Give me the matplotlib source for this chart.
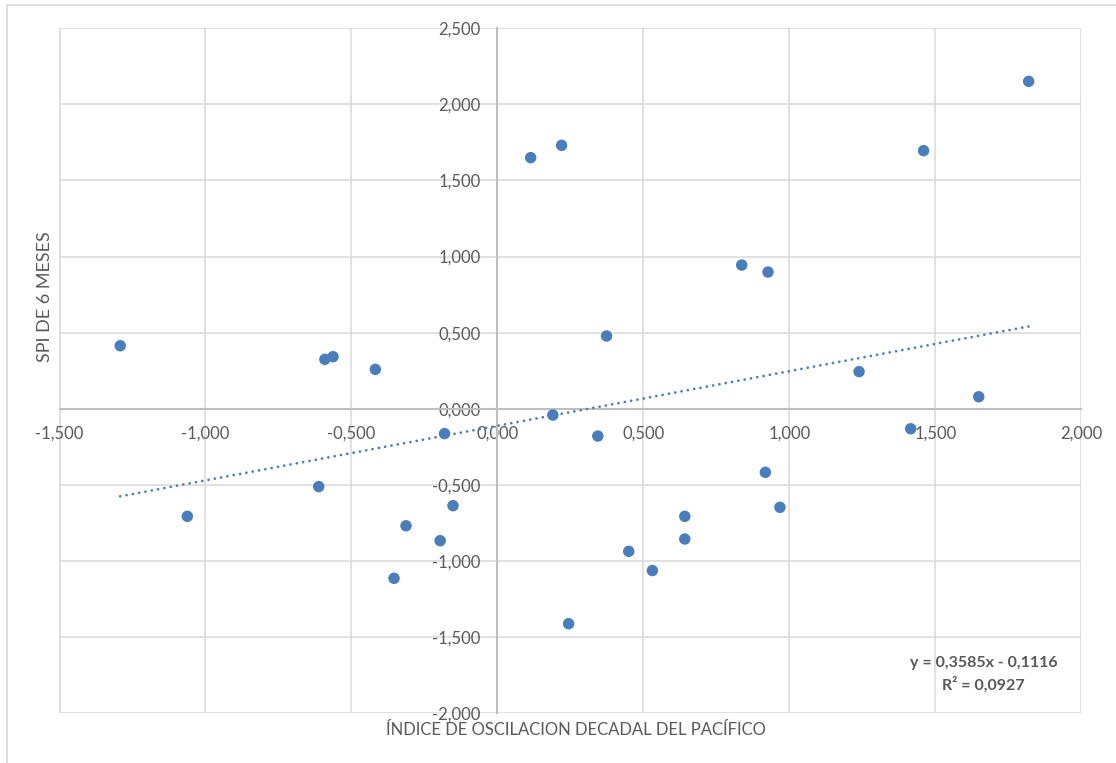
import matplotlib
matplotlib.use("Agg")
import matplotlib.pyplot as plt
from matplotlib.ticker import FixedLocator, FuncFormatter
from matplotlib.lines import Line2D
import numpy as np

# Pacific Decadal Oscillation index vs. 6-month SPI
pdo_index = [-1.292, -1.062, -0.612, -0.591, -0.563, -0.418, -0.354, -0.313,
             -0.196, -0.181, -0.152, 0.114, 0.190, 0.220, 0.244, 0.344,
             0.374, 0.450, 0.531, 0.642, 0.642, 0.837, 0.918, 0.927,
             0.968, 1.239, 1.416, 1.460, 1.649, 1.820]
spi_6 = [0.414, -0.706, -0.511, 0.325, 0.342, 0.259, -1.113, -0.768,
         -0.866, -0.163, -0.636, 1.649, -0.041, 1.730, -1.411, -0.179,
         0.478, -0.936, -1.062, -0.706, -0.855, 0.944, -0.417, 0.898,
         -0.647, 0.244, -0.131, 1.695, 0.079, 2.150]

# Linear trend reported for the series
trend_slope = 0.3585
trend_intercept = -0.1116
trend_r2 = 0.0927

x_ticks = [-1.5, -1.0, -0.5, 0.0, 0.5, 1.0, 1.5, 2.0]
y_ticks = [-2.0, -1.5, -1.0, -0.5, 0.0, 0.5, 1.0, 1.5, 2.0, 2.5]

x_title = "ÍNDICE DE OSCILACION DECADAL DEL PACÍFICO"
y_title = "SPI DE 6 MESES"

POINT_COLOR = "#4A7EBB"
TEXT_COLOR = "#595959"
GRID_COLOR = "#D9D9D9"
AXIS_COLOR = "#BFBFBF"

plt.rcParams["font.family"] = ["Lato", "DejaVu Sans"]

W, H, DPI = 1116, 763, 100
fig = plt.figure(figsize=(W / DPI, H / DPI), dpi=DPI)
fig.patch.set_facecolor("white")

# plot area placement (pixels)
left_px, right_px, top_px, bottom_px = 59.5, 1081.2, 28.05, 713.4
ax = fig.add_axes([left_px / W, 1 - bottom_px / H,
                   (right_px - left_px) / W, (bottom_px - top_px) / H])
ax.set_xlim(x_ticks[0], x_ticks[-1])
ax.set_ylim(y_ticks[0], y_ticks[-1])

def comma_fmt(v, pos=None):
    return f"{v:.3f}".replace(".", ",")

ax.xaxis.set_major_locator(FixedLocator(x_ticks))
ax.yaxis.set_major_locator(FixedLocator(y_ticks))
ax.xaxis.set_major_formatter(FuncFormatter(comma_fmt))
ax.yaxis.set_major_formatter(FuncFormatter(comma_fmt))

ax.grid(True, color=GRID_COLOR, linewidth=1.1, zorder=0)
ax.set_axisbelow(True)

for side in ("top", "right"):
    ax.spines[side].set_visible(False)
ax.spines["left"].set_position("zero")
ax.spines["bottom"].set_position("zero")
for side in ("left", "bottom"):
    ax.spines[side].set_color(AXIS_COLOR)
    ax.spines[side].set_linewidth(1.5)
    ax.spines[side].set_zorder(1)

ax.tick_params(axis="both", length=0, labelsize=12, labelcolor=TEXT_COLOR)
ax.tick_params(axis="x", pad=12)
ax.tick_params(axis="y", pad=12)

# scatter points
ax.scatter(pdo_index, spi_6, s=68, color=POINT_COLOR, edgecolors="none",
           zorder=3, clip_on=False)

# dotted linear trendline over the data range
tx = np.array([min(pdo_index), max(pdo_index)])
ty = trend_slope * tx + trend_intercept
ax.plot(tx, ty, color=POINT_COLOR, linewidth=2.0,
        linestyle=(0, (0.01, 2.3)), dash_capstyle="round", zorder=2)

# equation and R²
eq_text = f"y = {trend_slope:.4f}x - {abs(trend_intercept):.4f}".replace(".", ",")
r2_text = f"R² = {trend_r2:.4f}".replace(".", ",")
fig.text(983.5 / W, 1 - 663 / H, eq_text, ha="center", va="center",
         fontsize=11.5, fontweight="bold", color=TEXT_COLOR)
fig.text(983.5 / W, 1 - 685 / H, r2_text, ha="center", va="center",
         fontsize=11.5, fontweight="bold", color=TEXT_COLOR)

# axis titles
fig.text(576 / W, 1 - 730 / H, x_title, ha="center", va="center",
         fontsize=12, color=TEXT_COLOR)
fig.text(45 / W, 1 - 296.5 / H, y_title, ha="center", va="center",
         rotation=90, fontsize=13, color=TEXT_COLOR)

# chart-area frame
fig.add_artist(Line2D([7 / W, 7 / W], [0, 1 - 5 / H], transform=fig.transFigure,
                      color=GRID_COLOR, linewidth=1.2))
fig.add_artist(Line2D([7 / W, 1], [1 - 5 / H, 1 - 5 / H], transform=fig.transFigure,
                      color=GRID_COLOR, linewidth=1.2))

fig.savefig("out.png", dpi=DPI, facecolor="white")
